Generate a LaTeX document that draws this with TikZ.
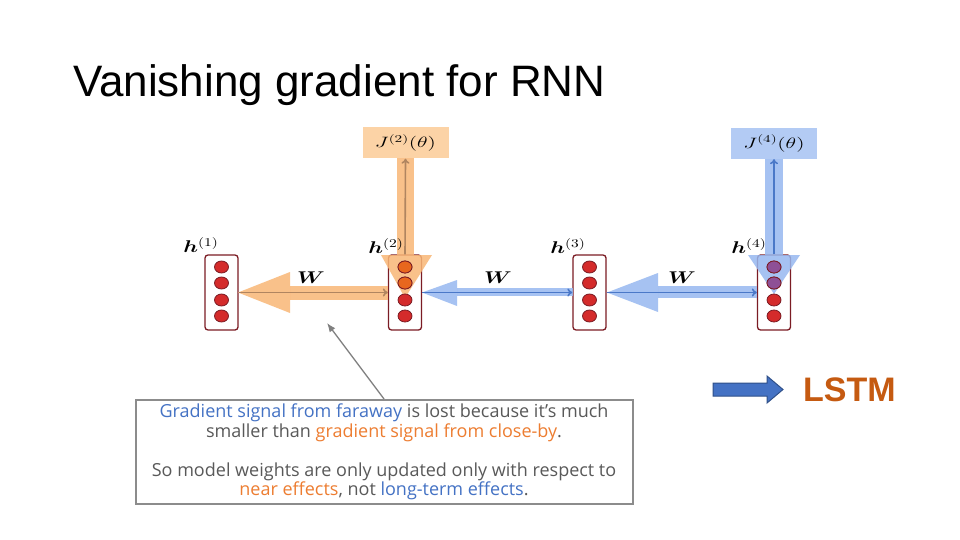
\RequirePackage{fix-cm}
\documentclass[tikz,border=0pt]{standalone}
\usepackage{amsmath,bm,graphicx}
\usepackage{fontspec}
\setmainfont{Liberation Sans}
\newfontfamily\notefont{Open Sans}
\usetikzlibrary{arrows.meta,shapes.geometric,calc}
\definecolor{cellred}{HTML}{D42B2B}
\definecolor{celledge}{HTML}{7B1C24}
\definecolor{cellorange}{HTML}{E8671E}
\definecolor{cellpurple}{HTML}{8E5096}
\definecolor{bandorange}{HTML}{F9B776}
\definecolor{boxorange}{HTML}{FCD3A6}
\definecolor{bandblue}{HTML}{97B8F0}
\definecolor{boxblue}{HTML}{B3CBF4}
\definecolor{thinblue}{HTML}{4A78C8}
\definecolor{thinbrown}{HTML}{B08560}
\definecolor{txtblue}{HTML}{4472C4}
\definecolor{txtorange}{HTML}{ED7D31}
\definecolor{txtgray}{HTML}{595959}
\definecolor{lstmcol}{HTML}{C55A11}
\newcommand{\wide}[2]{\scalebox{#1}[1]{#2}}
\tikzset{
  cellbox/.style={draw=celledge, line width=1.3pt, fill=white, rounded corners=3pt,
    minimum width=33pt, minimum height=75pt, inner sep=0pt},
  dot/.style={ellipse, draw=celledge, line width=0.8pt, fill=cellred,
    minimum width=14pt, minimum height=12pt, inner sep=0pt},
  thinarrow/.style={line width=1.6pt, -{To[length=5pt,width=8pt]}},
  lbl/.style={font=\fontsize{17}{19}\selectfont, inner sep=0pt},
  jbox/.style={minimum width=86pt, minimum height=31pt, inner sep=0pt,
    font=\fontsize{15}{17}\selectfont},
}
\begin{document}
\begin{tikzpicture}[x=1pt,y=-1pt]
\useasboundingbox[fill=white] (0,0) rectangle (960,540);

% title
\node[anchor=base west, inner sep=0pt, font=\fontsize{44}{50}\selectfont] (title) at (73,97) {Vanishing gradient for RNN};

% cells
\node[cellbox] (h1) at (221.5,292.5) {};
\node[cellbox] (h2) at (405,292.5) {};
\node[cellbox] (h3) at (589.5,292.5) {};
\node[cellbox] (h4) at (774,292.5) {};

% J boxes
\node[jbox, fill=boxorange] (J2) at (405.5,143) {\wide{1.45}{$J^{(2)}(\theta)$}};
\node[jbox, fill=boxblue] (J4) at (774,143.5) {\wide{1.45}{$J^{(4)}(\theta)$}};

% gradient bands
\begin{scope}[opacity=0.85]
\fill[bandorange] (397,158) rectangle (414,255);
\fill[bandorange] (381,255) -- (432,255) -- (405,298) -- cycle;
\fill[bandorange] (290,286) rectangle (388,300);
\fill[bandorange] (290,272) -- (290,313) -- (238,292.5) -- cycle;
\fill[bandblue] (765,159) rectangle (783,255);
\fill[bandblue] (748,255) -- (800,255) -- (774,294) -- cycle;
\fill[bandblue] (457,288) rectangle (573,296);
\fill[bandblue] (457,280) -- (457,306) -- (422,292.5) -- cycle;
\fill[bandblue] (658,286) rectangle (757,298);
\fill[bandblue] (658,273) -- (658,312) -- (607,292.5) -- cycle;
\end{scope}

% dots
\foreach \c in {1,2,3,4}{
  \foreach \k/\yy in {1/267,2/283,3/300,4/316}{
    \node[dot] (d\c\k) at ($(h\c.center)+(0,\yy-292.5)$) {};
  }
}
\node[dot, fill=cellorange] (d21o) at (d21) {};
\node[dot, fill=cellorange] (d22o) at (d22) {};
\node[dot, fill=cellpurple] (d41p) at (d41) {};
\node[dot, fill=cellpurple] (d42p) at (d42) {};

% thin arrows
\draw[thinarrow, thinbrown] (h1.east) -- (h2.west);
\draw[thinarrow, thinblue] (h2.east) -- (h3.west);
\draw[thinarrow, thinblue] (h3.east) -- (h4.west);
\draw[thinarrow, thinbrown] (h2.north) -- (J2.south);
\draw[thinarrow, thinblue] (h4.north) -- (J4.south);

% labels
\node[lbl] (l1) at (201,245) {\wide{1.3}{$\bm{h}^{(1)}$}};
\node[lbl] (l2) at (386,246) {\wide{1.3}{$\bm{h}^{(2)}$}};
\node[lbl] (l3) at (568,246) {\wide{1.3}{$\bm{h}^{(3)}$}};
\node[lbl] (l4) at (749,246) {\wide{1.3}{$\bm{h}^{(4)}$}};
\node[lbl] (w1) at (311,278) {\wide{1.3}{$\bm{W}$}};
\node[lbl] (w2) at (498,278) {\wide{1.3}{$\bm{W}$}};
\node[lbl] (w3) at (682,278) {\wide{1.3}{$\bm{W}$}};

% note box
\node[draw=gray!90, line width=2pt, fill=white, minimum width=497pt, minimum height=104pt,
  inner sep=0pt, align=center, text=txtgray,
  font=\notefont\fontsize{18}{19.5}\selectfont] (note) at (384,452)
  {\textcolor{txtblue}{Gradient signal from faraway} is lost because it’s much\\
   smaller than \textcolor{txtorange}{gradient signal from close-by}.\\[19.5pt]
   So model weights are only updated only with respect to\\
   \textcolor{txtorange}{near effects}, not \textcolor{txtblue}{long-term effects}.};
\coordinate (ptip) at (327,323);
\draw[gray, line width=1.3pt, -{Latex[length=9pt,width=7pt]}] (note.north) -- (ptip);

% LSTM
\draw[fill=txtblue, draw=txtblue!70!black, line width=1pt]
  (713,383) -- (767,383) -- (767,376) -- (783,389.5) -- (767,403) -- (767,396) -- (713,396) -- cycle;
\node[anchor=base west, inner sep=0pt, text=lstmcol, font=\bfseries\fontsize{34}{40}\selectfont] (lstm) at (803,401) {LSTM};
\end{tikzpicture}
\end{document}
